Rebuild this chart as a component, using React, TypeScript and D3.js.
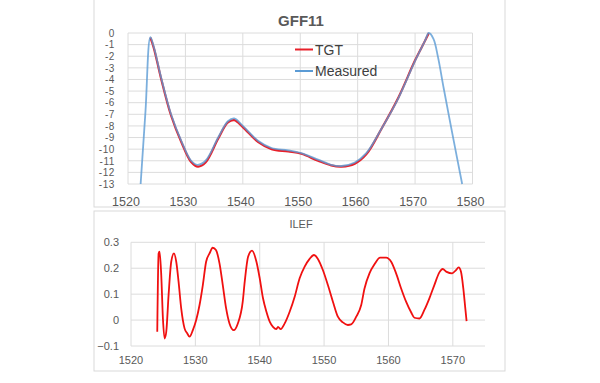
import React from "react";
import * as d3 from "d3";

// ---- Top chart (GFF11) data ----
const measuredX = [1522.2, 1523.05, 1523.9, 1524.5, 1525.8, 1527.5, 1529.3, 1531.0, 1532.1, 1533.5, 1535.7, 1537.4, 1538.5, 1540.0, 1542.7, 1545.0, 1547.9, 1550.2, 1553.1, 1555.4, 1557.2, 1559.5, 1561.5, 1564.2, 1567.1, 1570.0, 1571.7, 1572.4, 1573.2, 1574.0, 1575.0, 1576.7, 1578.2];
const measuredY = [-13, -6.7, -0.35, -1.2, -3.9, -7.0, -9.3, -11.0, -11.35, -11.0, -9.0, -7.6, -7.35, -8.0, -9.3, -9.9, -10.1, -10.35, -10.9, -11.35, -11.45, -11.15, -10.35, -8.2, -5.6, -2.4, -0.7, 0, -0.5, -2.1, -4.8, -9.2, -13];

const tgtX = [1523.9, 1524.5, 1525.8, 1527.5, 1529.3, 1531.0, 1532.2, 1533.5, 1535.7, 1537.4, 1538.5, 1540.0, 1542.7, 1545.0, 1547.9, 1550.2, 1553.1, 1555.4, 1557.2, 1559.5, 1561.5, 1564.2, 1567.1, 1570.0, 1571.7, 1572.4];
const tgtY = [-0.4, -1.3, -4.0, -7.1, -9.4, -11.1, -11.5, -11.15, -9.1, -7.7, -7.5, -8.1, -9.4, -10.0, -10.2, -10.4, -11.0, -11.4, -11.5, -11.25, -10.45, -8.2, -5.55, -2.35, -0.7, 0];

const topXTicks = [1520, 1530, 1540, 1550, 1560, 1570, 1580];
const topYTicks = [0, -1, -2, -3, -4, -5, -6, -7, -8, -9, -10, -11, -12, -13];
const topTitle = "GFF11";
const seriesNames = ["TGT", "Measured"];

// ---- Bottom chart (ILEF) data ----
const ilefX = [1524.08, 1524.29, 1524.44, 1524.7, 1524.96, 1525.22, 1525.48, 1525.84, 1526.25, 1526.67, 1527.03, 1527.39, 1527.8, 1528.32, 1528.73, 1529.1, 1529.61, 1530.13, 1530.65, 1531.16, 1531.67, 1532.2, 1532.7, 1533.2, 1533.75, 1534.26, 1534.78, 1535.3, 1535.97, 1536.6, 1537.36, 1537.67, 1538.19, 1538.8, 1539.49, 1540.0, 1540.51, 1541.04, 1541.55, 1542.06, 1542.59, 1542.84, 1543.26, 1543.88, 1544.65, 1545.43, 1546.2, 1546.98, 1547.75, 1548.42, 1549.04, 1549.81, 1550.59, 1551.37, 1552.14, 1552.92, 1553.69, 1554.2, 1555.0, 1555.77, 1556.28, 1557.05, 1557.83, 1558.71, 1559.64, 1560.42, 1561.19, 1561.97, 1562.74, 1563.52, 1564.03, 1564.81, 1565.58, 1566.36, 1567.13, 1567.91, 1568.42, 1569.04, 1569.88, 1570.5, 1570.9, 1571.27, 1571.63, 1571.94, 1572.14];
const ilefY = [-0.045, 0.257, 0.264, 0.174, 0.006, -0.071, -0.045, 0.097, 0.225, 0.257, 0.225, 0.148, 0.045, -0.032, -0.051, -0.064, -0.039, 0, 0.058, 0.135, 0.225, 0.257, 0.279, 0.27, 0.219, 0.135, 0.045, -0.013, -0.039, -0.013, 0.071, 0.148, 0.244, 0.268, 0.225, 0.161, 0.084, 0.032, -0.006, -0.026, -0.035, -0.026, -0.035, -0.013, 0.032, 0.09, 0.161, 0.206, 0.236, 0.251, 0.236, 0.193, 0.135, 0.071, 0.013, -0.009, -0.019, -0.017, 0.013, 0.058, 0.122, 0.18, 0.215, 0.241, 0.241, 0.225, 0.18, 0.122, 0.071, 0.03, 0.009, 0.006, 0.039, 0.084, 0.135, 0.184, 0.197, 0.186, 0.18, 0.193, 0.203, 0.186, 0.122, 0.045, -0.004];

const botXTicks = [1520, 1530, 1540, 1550, 1560, 1570];
const botYTicks = [0.3, 0.2, 0.1, 0, -0.1];
const botTitle = "ILEF";

const FONT = "'Liberation Sans', Arial, sans-serif";
const GRID = "#dcdcdc";
const TXT = "#595959";

export default function App() {
  // top scales
  const tx = d3.scaleLinear().domain([1520, 1580]).range([128, 472.5]);
  const ty = d3.scaleLinear().domain([0, -13]).range([33, 184]);
  const topLine = d3
    .line<[number, number]>()
    .x((d) => tx(d[0]))
    .y((d) => ty(d[1]))
    .curve(d3.curveCatmullRom.alpha(0.5));
  const measuredPts = measuredX.map((x, i) => [x, measuredY[i]] as [number, number]);
  const tgtPts = tgtX.map((x, i) => [x, tgtY[i]] as [number, number]);

  // bottom scales
  const bx = d3.scaleLinear().domain([1520, 1575]).range([131, 485]);
  const by = d3.scaleLinear().domain([0.3, -0.1]).range([242.3, 346]);
  const botLine = d3
    .line<[number, number]>()
    .x((d) => bx(d[0]))
    .y((d) => by(d[1]))
    .curve(d3.curveMonotoneX);
  const ilefPts = ilefX.map((x, i) => [x, ilefY[i]] as [number, number]);

  const fmtBot = (v: number) => (v === 0 ? "0" : d3.format(".1f")(v));

  return (
    <svg
      width={600}
      height={383}
      style={{ position: "absolute", left: 0, top: 0, background: "#fff" }}
      fontFamily={FONT}
    >
      <rect x={0} y={0} width={600} height={383} fill="#fff" />
      {/* chart borders */}
      <rect x={94} y={-5} width={411} height={212} fill="none" stroke="#d9d9d9" strokeWidth={1} />
      <rect x={94} y={211} width={411} height={160} fill="none" stroke="#d9d9d9" strokeWidth={1} />

      {/* ===== Top chart ===== */}
      <text x={301} y={25.5} textAnchor="middle" fontSize={15} fontWeight="bold" fill={TXT}>
        {topTitle}
      </text>
      {topYTicks.map((v) => (
        <line key={"tyg" + v} x1={tx(1520)} x2={tx(1580)} y1={ty(v)} y2={ty(v)} stroke={GRID} strokeWidth={1} />
      ))}
      {topXTicks.map((v) => (
        <line key={"txg" + v} x1={tx(v)} x2={tx(v)} y1={ty(0)} y2={ty(-13)} stroke={GRID} strokeWidth={1} />
      ))}
      {topYTicks.map((v) => (
        <text key={"tyl" + v} x={115} y={ty(v) + 3.8} textAnchor="end" fontSize={10} letterSpacing={0.6} fill={TXT}>
          {v}
        </text>
      ))}
      {topXTicks.map((v) => (
        <text key={"txl" + v} x={tx(v) - 2} y={205.5} textAnchor="middle" fontSize={12.5} fill={TXT}>
          {v}
        </text>
      ))}
      <path d={topLine(tgtPts) || ""} fill="none" stroke="#e8202a" strokeWidth={2.2} />
      <path d={topLine(measuredPts) || ""} fill="none" stroke="#5b9bd5" strokeWidth={1.8} strokeOpacity={0.8} />

      {/* legend */}
      <line x1={295} x2={313} y1={49.5} y2={49.5} stroke="#e8202a" strokeWidth={2} />
      <text x={315} y={54.5} fontSize={14} fill="#404040">{seriesNames[0]}</text>
      <line x1={295} x2={313} y1={71} y2={71} stroke="#5b9bd5" strokeWidth={2} />
      <text x={315} y={76} fontSize={14} fill="#404040">{seriesNames[1]}</text>

      {/* ===== Bottom chart ===== */}
      <text x={301} y={227.5} textAnchor="middle" fontSize={11} fill={TXT}>
        {botTitle}
      </text>
      {botYTicks.map((v) => (
        <line key={"byg" + v} x1={bx(1520)} x2={bx(1575)} y1={by(v)} y2={by(v)} stroke={GRID} strokeWidth={1} />
      ))}
      {botXTicks.map((v) => (
        <line key={"bxg" + v} x1={bx(v)} x2={bx(v)} y1={by(0.3)} y2={by(-0.1)} stroke={GRID} strokeWidth={1} />
      ))}
      {botYTicks.map((v) => (
        <text key={"byl" + v} x={119} y={by(v) + 4} textAnchor="end" fontSize={11} fill={TXT}>
          {fmtBot(v)}
        </text>
      ))}
      {botXTicks.map((v) => (
        <text key={"bxl" + v} x={bx(v)} y={364} textAnchor="middle" fontSize={11} fill={TXT}>
          {v}
        </text>
      ))}
      <path d={botLine(ilefPts) || ""} fill="none" stroke="#f01010" strokeWidth={1.8} strokeLinejoin="round" />
    </svg>
  );
}
